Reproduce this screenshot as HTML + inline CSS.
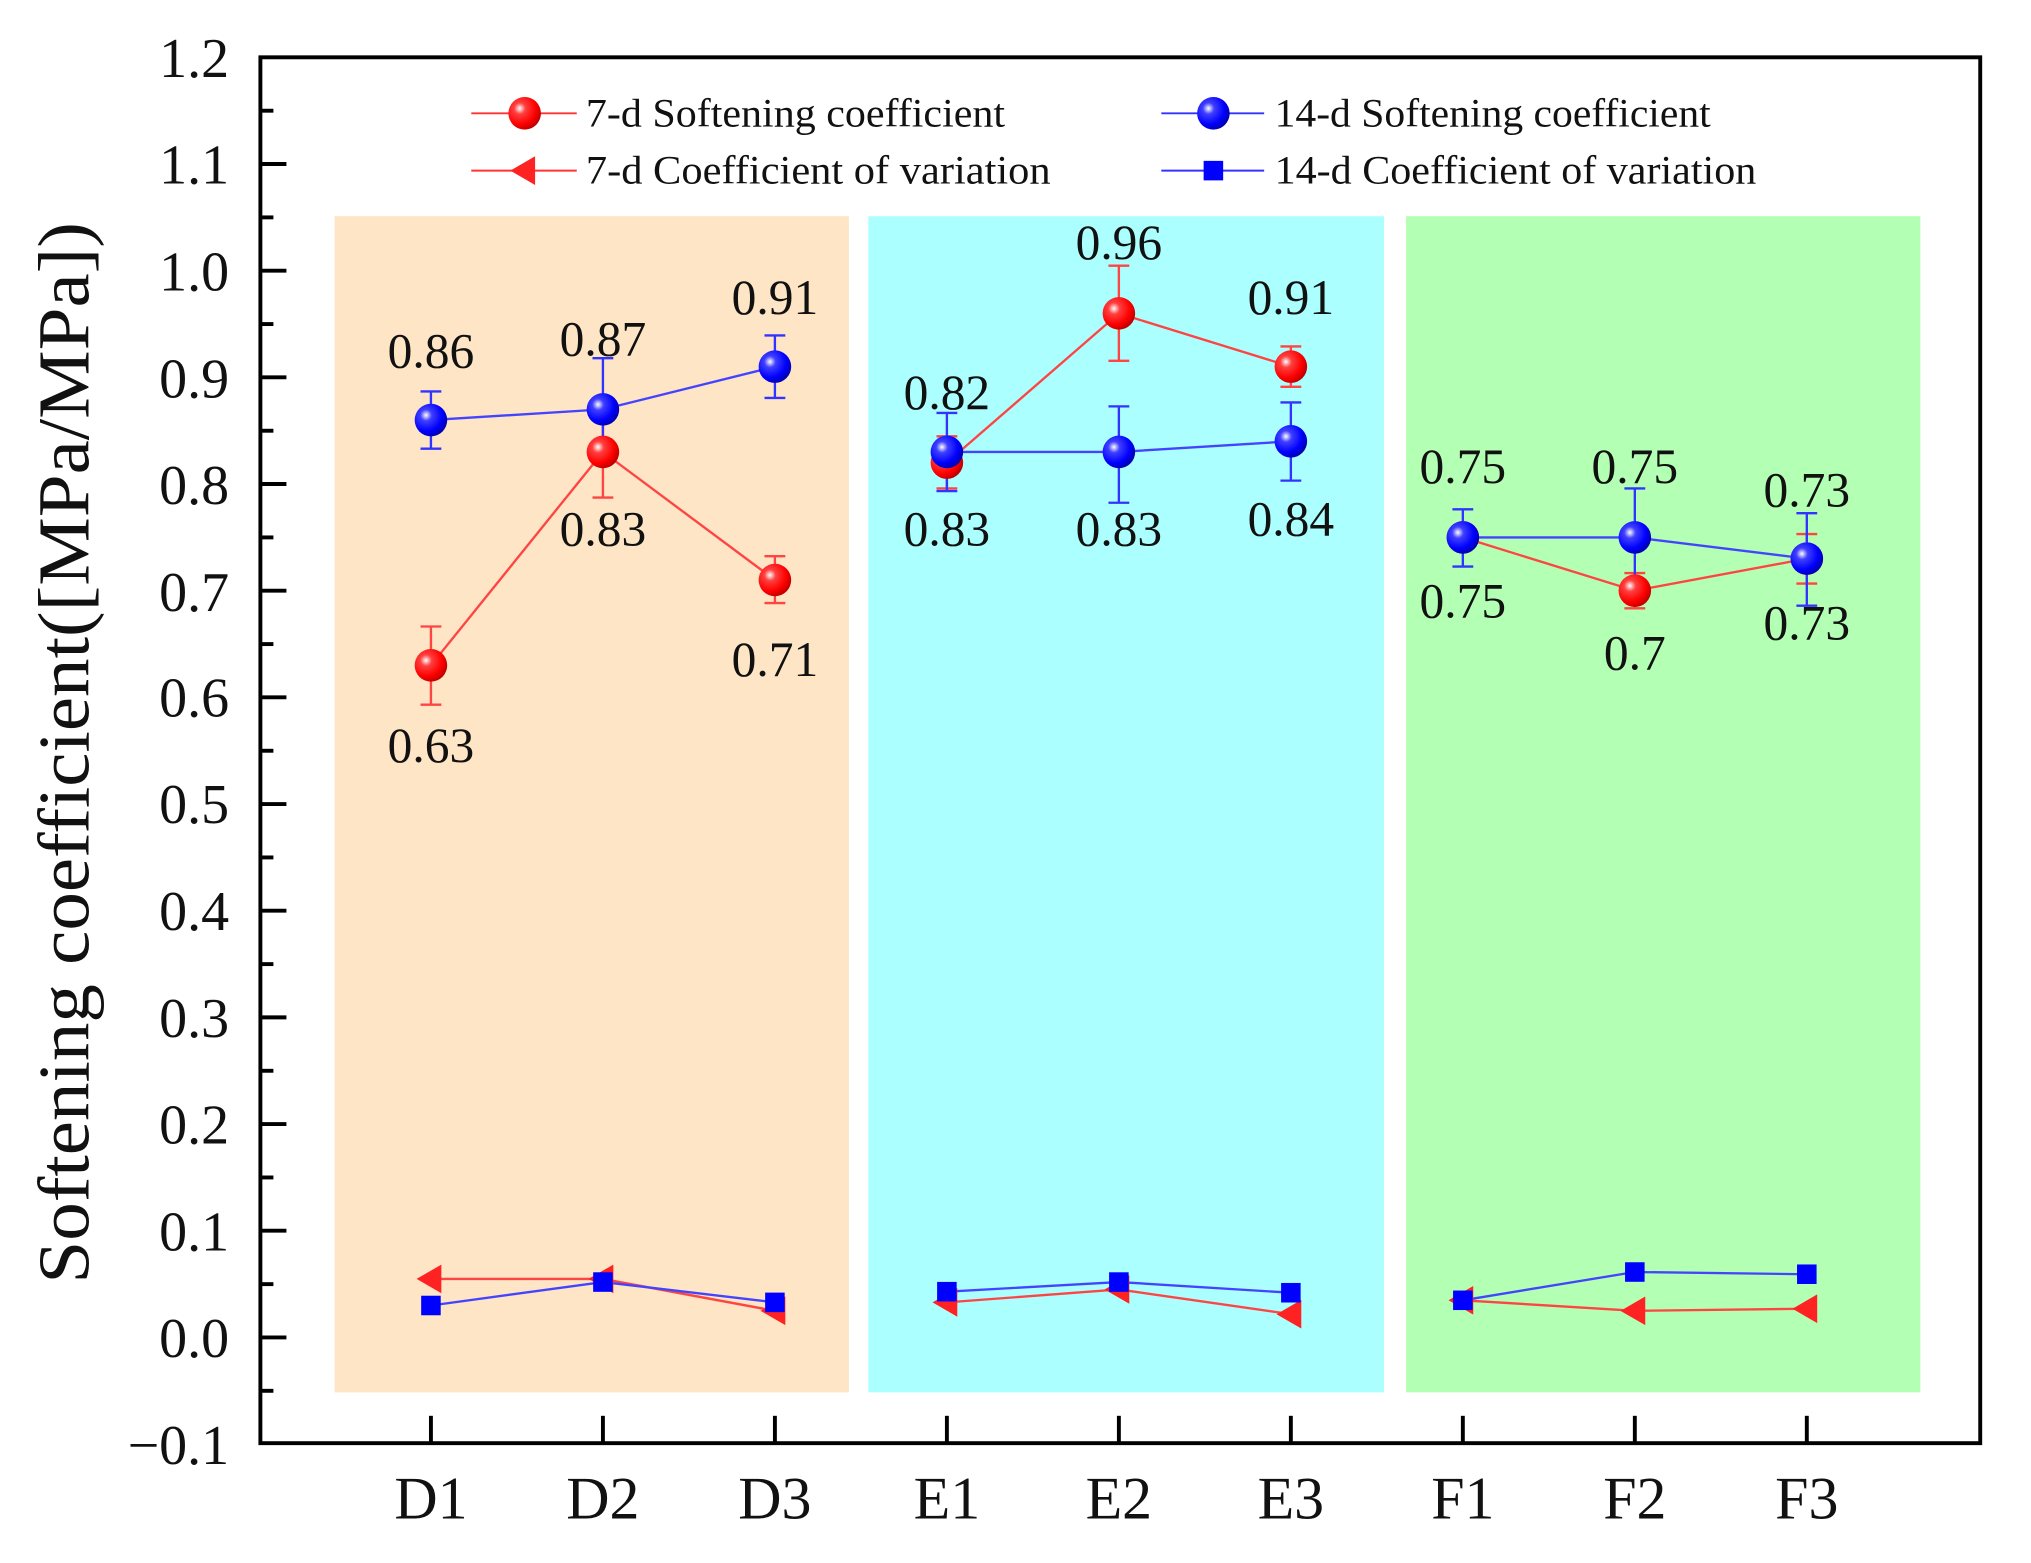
<!DOCTYPE html>
<html><head><meta charset="utf-8"><style>
html,body{margin:0;padding:0;background:#fff;}
svg{display:block;}
.t{font-family:"Liberation Serif",serif;fill:#111;}
</style></head><body>
<svg width="2031" height="1563" viewBox="0 0 1560 1200" preserveAspectRatio="none" xmlns="http://www.w3.org/2000/svg">
<defs>
<radialGradient id="gr" cx="0.35" cy="0.35" r="0.7"><stop offset="0" stop-color="#fff"/><stop offset="0.25" stop-color="#ff4040"/><stop offset="0.7" stop-color="#f00"/><stop offset="1" stop-color="#b00"/></radialGradient>
<radialGradient id="gb" cx="0.35" cy="0.35" r="0.7"><stop offset="0" stop-color="#fff"/><stop offset="0.25" stop-color="#4040ff"/><stop offset="0.7" stop-color="#00f"/><stop offset="1" stop-color="#00a"/></radialGradient>
<circle id="mr" r="12.5" fill="url(#gr)"/>
<circle id="mb" r="12.5" fill="url(#gb)"/>
<polygon id="tr" points="-11,0 8,-11 8,11" fill="#f22"/>
<rect id="sq" x="-7.5" y="-7.5" width="15" height="15" fill="#00f"/>
</defs>
<rect x="257" y="166" width="395" height="903" fill="#fde5c5"/>
<rect x="667" y="166" width="396" height="903" fill="#abffff"/>
<rect x="1080" y="166" width="395" height="903" fill="#b3ffb3"/>
<rect x="200" y="44" width="1321" height="1064" fill="none" stroke="#000" stroke-width="3"/>
<g stroke="#000" stroke-width="3">
<line x1="200" y1="125.9" x2="220" y2="125.9"/><line x1="200" y1="207.8" x2="220" y2="207.8"/><line x1="200" y1="289.7" x2="220" y2="289.7"/><line x1="200" y1="371.6" x2="220" y2="371.6"/><line x1="200" y1="453.5" x2="220" y2="453.5"/><line x1="200" y1="535.4" x2="220" y2="535.4"/><line x1="200" y1="617.3" x2="220" y2="617.3"/><line x1="200" y1="699.2" x2="220" y2="699.2"/><line x1="200" y1="781.1" x2="220" y2="781.1"/><line x1="200" y1="863" x2="220" y2="863"/><line x1="200" y1="944.9" x2="220" y2="944.9"/><line x1="200" y1="1026.8" x2="220" y2="1026.8"/>
<line x1="200" y1="85" x2="210" y2="85"/><line x1="200" y1="166.9" x2="210" y2="166.9"/><line x1="200" y1="248.8" x2="210" y2="248.8"/><line x1="200" y1="330.7" x2="210" y2="330.7"/><line x1="200" y1="412.6" x2="210" y2="412.6"/><line x1="200" y1="494.5" x2="210" y2="494.5"/><line x1="200" y1="576.4" x2="210" y2="576.4"/><line x1="200" y1="658.3" x2="210" y2="658.3"/><line x1="200" y1="740.2" x2="210" y2="740.2"/><line x1="200" y1="822.1" x2="210" y2="822.1"/><line x1="200" y1="904" x2="210" y2="904"/><line x1="200" y1="985.9" x2="210" y2="985.9"/><line x1="200" y1="1067.8" x2="210" y2="1067.8"/>
<line x1="331" y1="1108" x2="331" y2="1087"/><line x1="463.1" y1="1108" x2="463.1" y2="1087"/><line x1="595.2" y1="1108" x2="595.2" y2="1087"/><line x1="727.3" y1="1108" x2="727.3" y2="1087"/><line x1="859.4" y1="1108" x2="859.4" y2="1087"/><line x1="991.5" y1="1108" x2="991.5" y2="1087"/><line x1="1123.6" y1="1108" x2="1123.6" y2="1087"/><line x1="1255.7" y1="1108" x2="1255.7" y2="1087"/><line x1="1387.8" y1="1108" x2="1387.8" y2="1087"/>
</g>
<g class="t" font-size="43" text-anchor="end">
<text x="176" y="59">1.2</text><text x="176" y="141">1.1</text><text x="176" y="223">1.0</text><text x="176" y="305">0.9</text><text x="176" y="387">0.8</text><text x="176" y="469">0.7</text><text x="176" y="550">0.6</text><text x="176" y="632">0.5</text><text x="176" y="714">0.4</text><text x="176" y="796">0.3</text><text x="176" y="878">0.2</text><text x="176" y="960">0.1</text><text x="176" y="1042">0.0</text><text x="176" y="1124">−0.1</text>
</g>
<g class="t" font-size="46" text-anchor="middle">
<text x="331" y="1166">D1</text><text x="463.1" y="1166">D2</text><text x="595.2" y="1166">D3</text><text x="727.3" y="1166">E1</text><text x="859.4" y="1166">E2</text><text x="991.5" y="1166">E3</text><text x="1123.6" y="1166">F1</text><text x="1255.7" y="1166">F2</text><text x="1387.8" y="1166">F3</text>
</g>
<text class="t" transform="translate(68,578) rotate(-90)" text-anchor="middle" font-size="56" textLength="815" lengthAdjust="spacingAndGlyphs">Softening coefficient([MPa/MPa])</text>
<g stroke-width="1.5">
<line x1="362" y1="87" x2="443" y2="87" stroke="#f33"/><line x1="362" y1="131" x2="443" y2="131" stroke="#f33"/>
<line x1="892" y1="87" x2="971" y2="87" stroke="#33f"/><line x1="892" y1="131" x2="971" y2="131" stroke="#33f"/>
</g>
<use href="#mr" x="403" y="87"/><use href="#tr" x="403" y="131"/><use href="#mb" x="932" y="87"/><use href="#sq" x="932" y="131"/>
<g class="t" font-size="31">
<text x="450" y="97" textLength="322" lengthAdjust="spacingAndGlyphs">7-d Softening coefficient</text><text x="450" y="141" textLength="357" lengthAdjust="spacingAndGlyphs">7-d Coefficient of variation</text>
<text x="979" y="97" textLength="335" lengthAdjust="spacingAndGlyphs">14-d Softening coefficient</text><text x="979" y="141" textLength="370" lengthAdjust="spacingAndGlyphs">14-d Coefficient of variation</text>
</g>
<g fill="none" stroke-width="1.8">
<polyline stroke="#f44" points="331,981.9 463.1,981.9 595.2,1006.4"/>
<polyline stroke="#f44" points="727.3,999.9 859.4,990 991.5,1009"/>
<polyline stroke="#f44" points="1123.6,998.3 1255.7,1006.4 1387.8,1004.8"/>
<polyline stroke="#44f" points="331,1002.3 463.1,984.3 595.2,999.9"/>
<polyline stroke="#44f" points="727.3,991.7 859.4,984.3 991.5,992.5"/>
<polyline stroke="#44f" points="1123.6,998.3 1255.7,976.6 1387.8,978.3"/>
</g>
<use href="#tr" x="331" y="981.9"/><use href="#tr" x="463.1" y="981.9"/><use href="#tr" x="595.2" y="1006.4"/><use href="#tr" x="727.3" y="999.9"/><use href="#tr" x="859.4" y="990"/><use href="#tr" x="991.5" y="1009"/><use href="#tr" x="1123.6" y="998.3"/><use href="#tr" x="1255.7" y="1006.4"/><use href="#tr" x="1387.8" y="1004.8"/>
<use href="#sq" x="331" y="1002.3"/><use href="#sq" x="463.1" y="984.3"/><use href="#sq" x="595.2" y="999.9"/><use href="#sq" x="727.3" y="991.7"/><use href="#sq" x="859.4" y="984.3"/><use href="#sq" x="991.5" y="992.5"/><use href="#sq" x="1123.6" y="998.3"/><use href="#sq" x="1255.7" y="976.6"/><use href="#sq" x="1387.8" y="978.3"/>
<g fill="none" stroke-width="1.8">
<polyline stroke="#f44" points="331,510.8 463.1,347 595.2,445.3"/>
<polyline stroke="#f44" points="727.3,355.2 859.4,240.6 991.5,281.5"/>
<polyline stroke="#f44" points="1123.6,412.6 1255.7,453.5 1387.8,428.9"/>
<polyline stroke="#44f" points="331,322.5 463.1,314.3 595.2,281.5"/>
<polyline stroke="#44f" points="727.3,347 859.4,347 991.5,338.8"/>
<polyline stroke="#44f" points="1123.6,412.6 1255.7,412.6 1387.8,428.9"/>
</g>
<g stroke="#f44" stroke-width="1.8" fill="none">
<path d="M331,481V541M323,481h16M323,541h16"/>
<path d="M463.1,312V382M455.1,312h16M455.1,382h16"/>
<path d="M595.2,427V463M587.2,427h16M587.2,463h16"/>
<path d="M727.3,335V375M719.3,335h16M719.3,375h16"/>
<path d="M859.4,204V277M851.4,204h16M851.4,277h16"/>
<path d="M991.5,266V297M983.5,266h16M983.5,297h16"/>
<path d="M1255.7,440V467M1247.7,440h16M1247.7,467h16"/>
<path d="M1387.8,410V448M1379.8,410h16M1379.8,448h16"/>
</g>
<g stroke="#33f" stroke-width="1.8" fill="none">
<path d="M331,300.5V344.5M323,300.5h16M323,344.5h16"/>
<path d="M463.1,275V353M455.1,275h16M455.1,353h16"/>
<path d="M595.2,257.5V305.5M587.2,257.5h16M587.2,305.5h16"/>
<path d="M727.3,317V377M719.3,317h16M719.3,377h16"/>
<path d="M859.4,312V386M851.4,312h16M851.4,386h16"/>
<path d="M991.5,309V369M983.5,309h16M983.5,369h16"/>
<path d="M1123.6,391V435M1115.6,391h16M1115.6,435h16"/>
<path d="M1255.7,375V455M1247.7,375h16M1247.7,455h16"/>
<path d="M1387.8,394V465M1379.8,394h16M1379.8,465h16"/>
</g>
<use href="#mr" x="331" y="510.8"/><use href="#mr" x="463.1" y="347"/><use href="#mr" x="595.2" y="445.3"/><use href="#mr" x="727.3" y="355.2"/><use href="#mr" x="859.4" y="240.6"/><use href="#mr" x="991.5" y="281.5"/><use href="#mr" x="1123.6" y="412.6"/><use href="#mr" x="1255.7" y="453.5"/><use href="#mr" x="1387.8" y="428.9"/>
<use href="#mb" x="331" y="322.5"/><use href="#mb" x="463.1" y="314.3"/><use href="#mb" x="595.2" y="281.5"/><use href="#mb" x="727.3" y="347"/><use href="#mb" x="859.4" y="347"/><use href="#mb" x="991.5" y="338.8"/><use href="#mb" x="1123.6" y="412.6"/><use href="#mb" x="1255.7" y="412.6"/><use href="#mb" x="1387.8" y="428.9"/>
<g class="t" font-size="38" text-anchor="middle">
<text x="331" y="282">0.86</text><text x="463.1" y="273">0.87</text><text x="595.2" y="241">0.91</text>
<text x="331" y="585">0.63</text><text x="463.1" y="419">0.83</text><text x="595.2" y="519">0.71</text>
<text x="859.4" y="199">0.96</text><text x="991.5" y="241">0.91</text><text x="727.3" y="314">0.82</text>
<text x="727.3" y="419">0.83</text><text x="859.4" y="419">0.83</text><text x="991.5" y="411">0.84</text>
<text x="1123.6" y="371">0.75</text><text x="1255.7" y="371">0.75</text><text x="1387.8" y="389">0.73</text>
<text x="1123.6" y="474">0.75</text><text x="1255.7" y="514">0.7</text><text x="1387.8" y="491">0.73</text>
</g>
</svg>
</body></html>
